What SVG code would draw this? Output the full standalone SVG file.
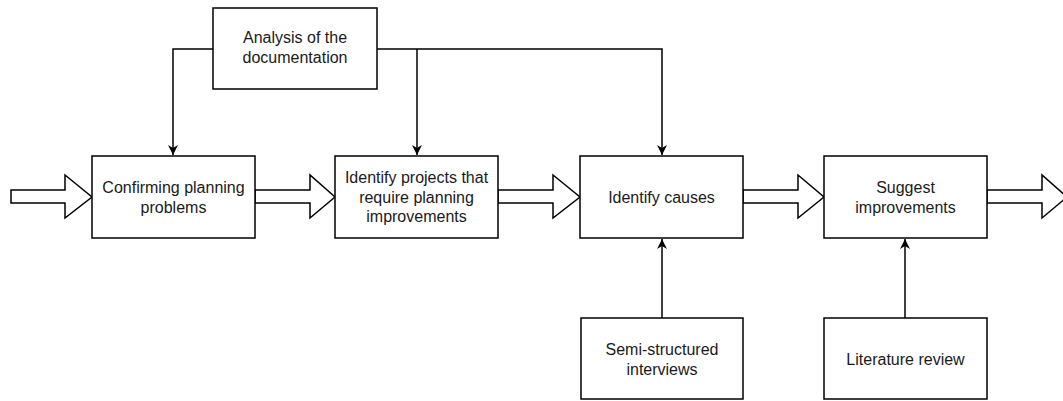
<svg xmlns="http://www.w3.org/2000/svg" width="1063" height="401" viewBox="0 0 1063 401">
<style>
.box{fill:#fff;stroke:#000;stroke-width:1.5}
.lbl{font-family:"Liberation Sans",Arial,sans-serif;font-size:16px;fill:#1a1a1a;text-anchor:middle}
.ln{fill:none;stroke:#000;stroke-width:1.5}
.blk{fill:#fff;stroke:#000;stroke-width:1.5;stroke-linejoin:miter}
</style>
<defs>
<marker id="ah" markerWidth="12" markerHeight="12" refX="10" refY="5" orient="auto" markerUnits="userSpaceOnUse">
<path d="M0,0 L10,5 L0,10 L3,5 Z" fill="#000"/>
</marker>
</defs>
<g id="connectors">
<polyline class="ln" points="213,49 173,49 173,155" marker-end="url(#ah)"/>
<polyline class="ln" points="377,49 662,49 662,155" marker-end="url(#ah)"/>
<line class="ln" x1="417" y1="49" x2="417" y2="155" marker-end="url(#ah)"/>
<line class="ln" x1="662" y1="318" x2="662" y2="239" marker-end="url(#ah)"/>
<line class="ln" x1="905" y1="318" x2="905" y2="239" marker-end="url(#ah)"/>
<polygon class="blk" points="11,190 65,190 65,175 92,197 65,218 65,203 11,203"/>
<polygon class="blk" points="255,190 310,190 310,175 335,197 310,218 310,203 255,203"/>
<polygon class="blk" points="498,190 553,190 553,175 580,197 553,218 553,203 498,203"/>
<polygon class="blk" points="743,190 798,190 798,175 824,197 798,218 798,203 743,203"/>
<polygon class="blk" points="987,190 1042,190 1042,175 1067,197 1042,218 1042,203 987,203"/>
</g>
<g id="analysis">
<rect class="box" x="213" y="8" width="164" height="81"/>
<text class="lbl" x="295" y="43">Analysis of the</text>
<text class="lbl" x="295" y="63">documentation</text>
</g>
<g id="confirming">
<rect class="box" x="92" y="156" width="163" height="82"/>
<text class="lbl" x="173.5" y="193">Confirming planning</text>
<text class="lbl" x="173.5" y="213">problems</text>
</g>
<g id="identify-projects">
<rect class="box" x="335" y="156" width="163" height="82"/>
<text class="lbl" x="416.5" y="183">Identify projects that</text>
<text class="lbl" x="416.5" y="203">require planning</text>
<text class="lbl" x="416.5" y="222">improvements</text>
</g>
<g id="identify-causes">
<rect class="box" x="580" y="156" width="163" height="82"/>
<text class="lbl" x="661.5" y="203">Identify causes</text>
</g>
<g id="suggest">
<rect class="box" x="824" y="156" width="163" height="82"/>
<text class="lbl" x="905.5" y="193">Suggest</text>
<text class="lbl" x="905.5" y="213">improvements</text>
</g>
<g id="interviews">
<rect class="box" x="581" y="318" width="162" height="81"/>
<text class="lbl" x="662" y="355">Semi-structured</text>
<text class="lbl" x="662" y="375">interviews</text>
</g>
<g id="literature">
<rect class="box" x="824" y="318" width="163" height="81"/>
<text class="lbl" x="905.5" y="365">Literature review</text>
</g>
</svg>
